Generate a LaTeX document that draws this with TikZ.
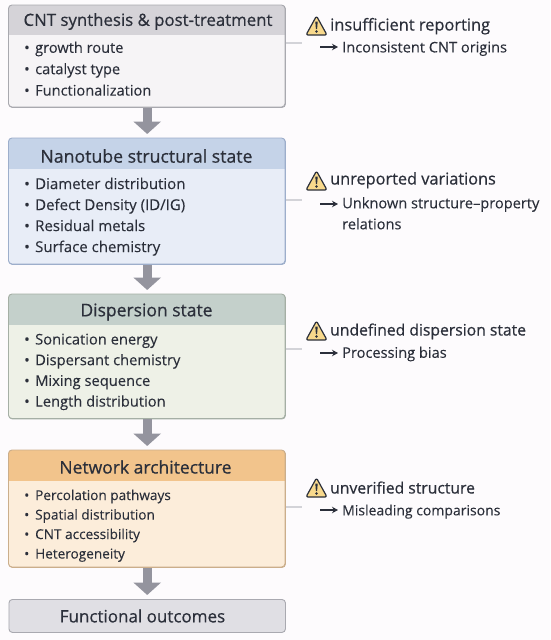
\documentclass[tikz,border=0pt]{standalone}
\usepackage{fontspec}
\setmainfont{Open Sans}[FakeBold=0.25]
\newfontfamily\plainf{Open Sans}[FakeBold=0.1]
\newfontfamily\heavyf{Open Sans}[FakeBold=0.6]
\usetikzlibrary{arrows.meta,calc}
\definecolor{bg}{HTML}{FDFBFD}
\definecolor{ink}{HTML}{2B2F3A}
\definecolor{linkc}{HTML}{D3D3D8}
\definecolor{arrowc}{HTML}{94949E}
\definecolor{warnf}{HTML}{F8D98C}
\definecolor{hA}{HTML}{D5D3D8}\definecolor{bA}{HTML}{F6F4F6}\definecolor{eA}{HTML}{A9A9AF}
\definecolor{hB}{HTML}{C5D3E8}\definecolor{bB}{HTML}{E8EDF7}\definecolor{eB}{HTML}{9DAECB}
\definecolor{hC}{HTML}{C4D0CB}\definecolor{bC}{HTML}{EEF1E7}\definecolor{eC}{HTML}{A5AFA5}
\definecolor{hD}{HTML}{F2C48C}\definecolor{bD}{HTML}{FCEDDA}\definecolor{eD}{HTML}{CBAE8B}
\definecolor{hE}{HTML}{E0DFE4}\definecolor{eE}{HTML}{A9A9B0}
\newcommand{\fs}[2]{\fontsize{#1}{#2}\selectfont}
\newcommand{\bul}{\makebox[11pt][l]{•}}
\tikzset{
  x=1pt,y=-1pt,
  box/.style={draw=#1,line width=0.9pt,rounded corners=3.5pt,inner sep=0pt,minimum width=276.5pt,anchor=north west},
  head/.style={text=ink,inner sep=0pt,anchor=center},
  items/.style={text=ink,inner sep=0pt,anchor=north west,align=left},
  flow/.style={line width=9pt,draw=arrowc,-{Triangle[length=12.5pt,width=27pt]},shorten >=4pt},
  sidelink/.style={line width=1.3pt,draw=linkc},
  warntitle/.style={text=ink,inner sep=0pt,anchor=base west},
  warnbody/.style={text=ink,inner sep=0pt,anchor=north west,align=left},
  lead/.style={line width=1.2pt,draw=ink,shorten >=4pt,-{Stealth[length=6pt,width=6.5pt]}},
}
\newcommand{\warnicon}[3]{% name, x, y (centre)
  \coordinate (#1) at (#2,#3);
  \draw[draw=ink,line width=1.2pt,fill=warnf,line join=round,rounded corners=2pt]
    ($(#1)+(-10.5,9)$) -- ($(#1)+(0,-10)$) -- ($(#1)+(10.5,9)$) -- cycle;
  \fill[ink] ($(#1)+(-1.2,-4.5)$) -- ($(#1)+(1.2,-4.5)$) -- ($(#1)+(0.6,3)$) -- ($(#1)+(-0.6,3)$) -- cycle;
  \fill[ink] ($(#1)+(0,5.5)$) circle (1.3pt);
}
\newcommand{\panelbox}[5]{% name, top, height, headheight, colour letter
  \node[box=e#5,fill=b#5,minimum height=#3pt] (#1) at (8.5,#2) {};
  \begin{scope}
    \clip[rounded corners=3.5pt] (8.5,#2) rectangle (285,#2+#3);
    \fill[b#5] (8.5,#2+#4) rectangle (285,#2+#3);
    \fill[h#5] (8.5,#2) rectangle (285,#2+#4);
  \end{scope}
  \draw[draw=e#5,line width=0.9pt,rounded corners=3.5pt] (8.5,#2) rectangle (285,#2+#3);
}
\begin{document}
\begin{tikzpicture}
\useasboundingbox (0,0) rectangle (550,640);
\fill[bg] (0,0) rectangle (550,640);

\panelbox{a}{5}{102}{29.5}{A}
\panelbox{b}{138}{126}{31}{B}
\panelbox{c}{294}{124.5}{31}{C}
\panelbox{d}{450}{117}{31}{D}
\node[box=eE,fill=hE,minimum height=33pt] (e) at (8.5,599) {};

\node[head,font=\heavyf\fs{16.8}{20}] (ha) at (148,21.5) {CNT synthesis \& post-treatment};
\node[head,font=\heavyf\fs{17.7}{20}] (hb) at (146.5,156) {Nanotube structural state};
\node[head,font=\heavyf\fs{17.5}{20}] (hc) at (146.5,312) {Dispersion state};
\node[head,font=\heavyf\fs{17.5}{20}] (hd) at (145.5,467) {Network architecture};
\node[head,font=\heavyf\fs{17}{20}] (he) at (142.5,616) {Functional outcomes};

\node[items,font=\plainf\fs{14.6}{21.4}] (ia) at (24,41.5) {\bul growth route\\\bul catalyst type\\\bul Functionalization};
\node[items,font=\plainf\fs{15}{21}] (ib) at (24,177.5) {\bul Diameter distribution\\\bul Defect Density (ID/IG)\\\bul Residual metals\\\bul Surface chemistry};
\node[items,font=\plainf\fs{14.7}{20.7}] (ic) at (24,333.5) {\bul Sonication energy\\\bul Dispersant chemistry\\\bul Mixing sequence\\\bul Length distribution};
\node[items,font=\plainf\fs{13.6}{19.5}] (id) at (24,489.5) {\bul Percolation pathways\\\bul Spatial distribution\\\bul CNT accessibility\\\bul Heterogeneity};

\draw[flow] (a.south) -- (b.north);
\draw[flow] (b.south) -- (c.north);
\draw[flow] (c.south) -- (d.north);
\draw[flow] (d.south) -- (e.north);

\coordinate (la) at (302,43);
\coordinate (lb) at (302,200);
\coordinate (lc) at (302,349);
\coordinate (ld) at (302,507);
\draw[sidelink] (a.east |- la) -- (la);
\draw[sidelink] (b.east |- lb) -- (lb);
\draw[sidelink] (c.east |- lc) -- (lc);
\draw[sidelink] (d.east |- ld) -- (ld);

\warnicon{wa}{316.5}{26}
\warnicon{wb}{316.5}{181}
\warnicon{wc}{316.5}{331}
\warnicon{wd}{316.5}{488}

\node[warntitle,font=\heavyf\fs{16.4}{20}] (ta) at (330,30.5) {insufficient reporting};
\node[warntitle,font=\heavyf\fs{16.3}{20}] (tb) at (330,184.5) {unreported variations};
\node[warntitle,font=\heavyf\fs{15.7}{20}] (tc) at (330,335.5) {undefined dispersion state};
\node[warntitle,font=\heavyf\fs{15.7}{20}] (td) at (330,493.5) {unverified structure};

\node[warnbody,font=\plainf\fs{14.6}{21}] (ba) at (342,41.5) {Inconsistent CNT origins};
\node[warnbody,font=\plainf\fs{14.6}{21}] (bb) at (342,197) {Unknown structure–property\\relations};
\node[warnbody,font=\plainf\fs{14.6}{21}] (bc) at (342,346.5) {Processing bias};
\node[warnbody,font=\plainf\fs{14}{20}] (bd) at (342,504.5) {Misleading comparisons};

\coordinate (sa) at (320,47);
\coordinate (sb) at (320,204);
\coordinate (sc) at (320,353);
\coordinate (sd) at (320,510);
\draw[lead] (sa) -- (sa -| ba.west);
\draw[lead] (sb) -- (sb -| bb.west);
\draw[lead] (sc) -- (sc -| bc.west);
\draw[lead] (sd) -- (sd -| bd.west);
\end{tikzpicture}
\end{document}
